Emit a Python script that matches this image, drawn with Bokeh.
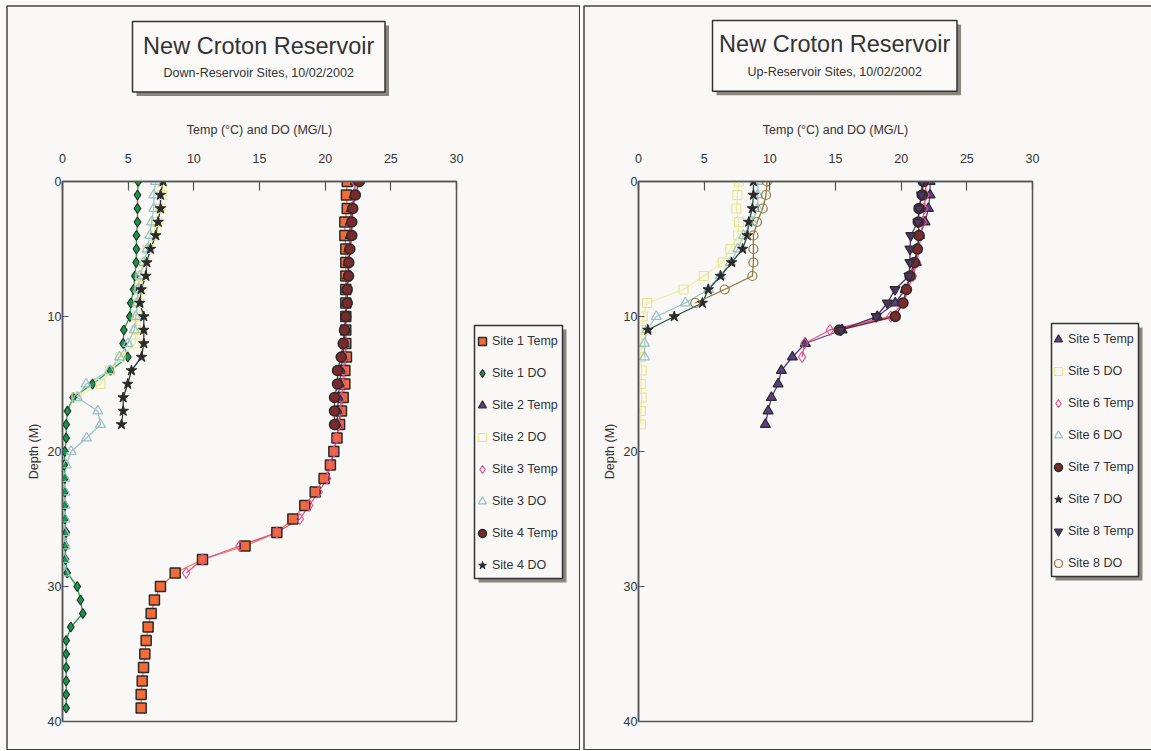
from bokeh.plotting import figure
from bokeh.models import Range1d, FixedTicker, Label, Legend, LegendItem, GridBox
from bokeh.embed import file_html
from bokeh.resources import INLINE

# ---------------- data (depth in metres, value at each 1 m step) ----------------
depth_m = list(range(40))

site1_temp = [21.68, 21.62, 21.68, 21.5, 21.5, 21.57, 21.57, 21.57, 21.57, 21.57,
              21.57, 21.57, 21.57, 21.62, 21.5, 21.5, 21.37, 21.24, 21.1, 20.9,
              20.66, 20.4, 19.92, 19.24, 18.45, 17.54, 16.32, 13.9, 10.66, 8.58,
              7.46, 7.0, 6.75, 6.52, 6.37, 6.27, 6.17, 6.07, 5.99, 5.99]
site1_do = [5.76, 5.71, 5.71, 5.71, 5.63, 5.63, 5.61, 5.51, 5.41, 5.2,
            5.13, 4.67, 4.62, 4.97, 3.65, 2.28, 0.81, 0.38, 0.28, 0.28,
            0.18, 0.13, 0.18, 0.18, 0.18, 0.18, 0.28, 0.23, 0.23, 0.36,
            1.12, 1.37, 1.55, 0.63, 0.28, 0.28, 0.28, 0.28, 0.28, 0.28]
site2_temp = [22.3, 22.2, 22.0, 21.9, 21.9, 21.8, 21.75, 21.7, 21.65, 21.6,
              21.55, 21.5, 21.45, 21.35, 21.2, 21.1, 21.0, 20.95, 20.9]
site2_do = [7.6, 7.6, 7.45, 7.2, 6.95, 6.5, 6.24, 5.94, 5.85, 5.8,
            5.69, 5.6, 5.56, 4.42, 3.6, 2.89, 1.07]
site3_temp = [22.26, 22.18, 22.05, 21.95, 21.95, 21.8, 21.75, 21.7, 21.65, 21.62,
              21.6, 21.58, 21.55, 21.5, 21.4, 21.35, 21.25, 21.15, 21.05, 20.85,
              20.66, 20.4, 20.15, 19.5, 18.78, 18.07, 16.32, 13.48, 10.66, 9.42]
site3_do = [7.08, 6.95, 6.95, 6.78, 6.65, 6.45, 6.19, 5.89, 5.76, 5.7,
            5.58, 5.46, 4.97, 4.34, 3.6, 1.8, 1.12, 2.69, 2.89, 1.83,
            0.66, 0.28, 0.18, 0.18, 0.18, 0.18, 0.15, 0.18, 0.15, 0.18]
site4_temp = [22.6, 22.3, 22.1, 22.03, 22.03, 21.88, 21.8, 21.78, 21.68, 21.68,
              21.57, 21.47, 21.37, 21.22, 20.94, 20.94, 20.71, 20.71, 20.71]
site4_do = [7.66, 7.46, 7.46, 7.28, 7.1, 6.7, 6.42, 6.35, 5.99, 5.89,
            6.19, 6.19, 6.19, 6.02, 5.25, 4.97, 4.62, 4.62, 4.49]

site5_temp = [22.2, 22.2, 22.07, 21.82, 21.4, 21.2, 21.15, 20.72, 20.3, 19.55,
              18.18, 15.5, 12.7, 11.72, 10.88, 10.63, 10.12, 9.87, 9.66]
site5_do = [7.65, 7.53, 7.45, 7.65, 7.58, 6.99, 6.41, 4.96, 3.43, 0.66,
            0.33, 0.25, 0.18, 0.18, 0.25, 0.18, 0.25, 0.18, 0.18]
site6_temp = [21.9, 21.85, 21.75, 21.65, 21.5, 21.35, 21.2, 20.9, 20.5, 20.2,
              19.2, 14.57, 12.64, 12.46]
site6_do = [9.08, 9.08, 9.08, 8.64, 8.0, 7.55, 7.0, 6.23, 5.34, 3.56,
            1.35, 0.64, 0.46, 0.46]
site7_temp = [21.69, 21.6, 21.36, 21.3, 21.36, 21.23, 21.0, 20.67, 20.4, 20.14,
              19.55, 15.3]
site7_do = [8.75, 8.75, 8.67, 8.39, 8.29, 7.93, 7.09, 6.25, 5.31, 4.86,
            2.72, 0.71]
site8_temp = [21.6, 21.54, 21.36, 21.28, 20.73, 20.67, 20.67, 20.6, 19.53, 18.95,
              18.1, 15.4]
site8_do = [9.79, 9.71, 9.46, 9.03, 8.75, 8.75, 8.75, 8.67, 6.56, 4.32]

x_ticks = [0, 5, 10, 15, 20, 25, 30]
y_ticks = [0, 10, 20, 30, 40]

# ---------------- styles ----------------
FONT = "Liberation Sans"
BG = "#f9f8f6"
TXT = "#333333"
EDGE = "#2b2b2b"
SHADOW = "#8a857f"

left_series = [
    ("Site 1 Temp", site1_temp, dict(marker="square", size=10, fill_color="#f26b38", line_color=EDGE, line_width=1.5), "#f0784a"),
    ("Site 1 DO", site1_do, dict(marker="diamond", size=10, fill_color="#12994a", line_color=EDGE, line_width=1.2), "#1aa64f"),
    ("Site 2 Temp", site2_temp, dict(marker="triangle", size=10, fill_color="#5b3f80", line_color=EDGE, line_width=1.2), "#5b3f80"),
    ("Site 2 DO", site2_do, dict(marker="square", size=9, fill_color=None, line_color="#e6e68a", line_width=1.2), "#ecec9a"),
    ("Site 3 Temp", site3_temp, dict(marker="diamond", size=11, fill_color=None, line_color="#e4508a", line_width=1.2), "#e4508a"),
    ("Site 3 DO", site3_do, dict(marker="triangle", size=10, fill_color=None, line_color="#96c0c4", line_width=1.2), "#9cc3c6"),
    ("Site 4 Temp", site4_temp, dict(marker="circle", size=10, fill_color="#7b2a2c", line_color=EDGE, line_width=1.5), "#7b2a2c"),
    ("Site 4 DO", site4_do, dict(marker="star", size=11, fill_color="#2a2a2a", line_color="#2a2a2a", line_width=1), "#2b3f38"),
]
right_series = [
    ("Site 5 Temp", site5_temp, dict(marker="triangle", size=10, fill_color="#5b3f80", line_color=EDGE, line_width=1.2), "#5b3f80"),
    ("Site 5 DO", site5_do, dict(marker="square", size=9, fill_color=None, line_color="#e6e68a", line_width=1.2), "#ecec9a"),
    ("Site 6 Temp", site6_temp, dict(marker="diamond", size=11, fill_color=None, line_color="#e4508a", line_width=1.2), "#e4508a"),
    ("Site 6 DO", site6_do, dict(marker="triangle", size=10, fill_color=None, line_color="#96c0c4", line_width=1.2), "#9cc3c6"),
    ("Site 7 Temp", site7_temp, dict(marker="circle", size=10, fill_color="#7b2a2c", line_color=EDGE, line_width=1.5), "#7b2a2c"),
    ("Site 7 DO", site7_do, dict(marker="star", size=11, fill_color="#2a2a2a", line_color="#2a2a2a", line_width=1), "#1d5a44"),
    ("Site 8 Temp", site8_temp, dict(marker="inverted_triangle", size=10, fill_color="#4a3566", line_color=EDGE, line_width=1.2), "#4a3566"),
    ("Site 8 DO", site8_do, dict(marker="circle", size=9, fill_color=None, line_color="#8c7a3e", line_width=1.2), "#8c7a3e"),
]

H = 750


def build_plot(series, width, left_b):
    fw, fh, top_b = 394, 540, 181
    p = figure(width=width, height=H, x_range=Range1d(0, 30), y_range=Range1d(40, 0),
               x_axis_location="above", output_backend="svg", toolbar_location=None,
               min_border_left=left_b, min_border_right=width - left_b - fw,
               min_border_top=top_b, min_border_bottom=H - top_b - fh,
               background_fill_alpha=0, border_fill_alpha=0, frame_align=False)
    p.grid.visible = False
    p.outline_line_color = "#555555"
    p.outline_line_width = 1.5

    xa = p.xaxis[0]
    xa.ticker = FixedTicker(ticks=x_ticks)
    xa.axis_label = "Temp (°C) and DO (MG/L)"
    xa.major_tick_in = 9
    xa.major_tick_out = 0
    xa.major_label_standoff = 19
    xa.axis_label_standoff = 14
    ya = p.yaxis[0]
    ya.ticker = FixedTicker(ticks=y_ticks)
    ya.axis_label = "Depth (M)"
    ya.major_tick_in = 6
    ya.major_tick_out = 0
    ya.major_label_standoff = 1
    ya.axis_label_standoff = 4
    for ax in (xa, ya):
        ax.minor_tick_line_color = None
        ax.axis_line_color = "#555555"
        ax.axis_line_width = 1.5
        ax.major_tick_line_color = "#555555"
        ax.major_tick_line_width = 1.2
        ax.major_label_text_font = FONT
        ax.major_label_text_font_size = "12.5px"
        ax.major_label_text_color = TXT
        ax.axis_label_text_font = FONT
        ax.axis_label_text_font_size = "12.5px"
        ax.axis_label_text_font_style = "normal"
        ax.axis_label_text_color = TXT

    for name, vals, mk, lcolor in series:
        p.line(vals, depth_m[:len(vals)], line_color=lcolor, line_width=1.3)
    for name, vals, mk, lcolor in series:
        p.scatter(vals, depth_m[:len(vals)], **mk)
    return p


def build_deco(series, subtitle, width, border, title_box, title_xy, sub_y, leg_box, leg_loc):
    # decoration layer: panel border, title box and legend (canvas pixel coordinates)
    d = figure(width=width, height=H, x_range=Range1d(0, width), y_range=Range1d(H, 0),
               x_axis_location=None, y_axis_location=None, output_backend="svg",
               toolbar_location=None, min_border=0, frame_align=False,
               background_fill_color=BG, border_fill_color=BG)
    d.grid.visible = False
    d.outline_line_color = None

    bl, bt, br, bb = border
    d.quad(left=[bl], right=[br], top=[bt], bottom=[bb], fill_alpha=0,
           line_color="#444444", line_width=1.5)

    tl, tt, tr, tb = title_box
    d.quad(left=[tl + 4], right=[tr + 4], top=[tt + 4], bottom=[tb + 4],
           fill_color=SHADOW, line_color=None)
    d.quad(left=[tl], right=[tr], top=[tt], bottom=[tb],
           fill_color="#fbfaf9", line_color="#333333", line_width=1.5)
    d.add_layout(Label(x=title_xy[0], y=title_xy[1], text="New Croton Reservoir",
                       text_align="center", text_baseline="middle",
                       text_font=FONT, text_font_size="23.5px", text_color=TXT))
    d.add_layout(Label(x=title_xy[0], y=sub_y, text=subtitle,
                       text_align="center", text_baseline="middle",
                       text_font=FONT, text_font_size="12.5px", text_color=TXT))

    ll, lt, lr, lb = leg_box
    d.quad(left=[ll + 4], right=[lr + 4], top=[lt + 4], bottom=[lb + 4],
           fill_color=SHADOW, line_color=None)
    d.quad(left=[ll], right=[lr], top=[lt], bottom=[lb],
           fill_color=BG, line_color="#333333", line_width=1.5)

    # legend swatches: hidden copies of each series (only their legend glyph is drawn)
    items = []
    for name, vals, mk, lcolor in series:
        r = d.scatter(vals, depth_m[:len(vals)], visible=False, **mk)
        items.append(LegendItem(label=name, renderers=[r]))
    leg = Legend(items=items, location=leg_loc,
                 glyph_width=20, glyph_height=22, label_height=22, spacing=10,
                 padding=0, margin=0, label_standoff=0,
                 border_line_alpha=0, background_fill_alpha=0,
                 inactive_fill_alpha=0,
                 label_text_font=FONT, label_text_font_size="12.5px", label_text_color=TXT)
    d.add_layout(leg)
    return d


W1, W2 = 580, 569
plot1 = build_plot(left_series, W1, 62)
plot2 = build_plot(right_series, W2, 56)
deco1 = build_deco(left_series, "Down-Reservoir Sites, 10/02/2002", W1,
                   (6.5, 5.5, 579.2, 749.2), (132, 21, 384.5, 91.5), (258.2, 45), 72.7,
                   (474, 325, 562, 578), (472, H - 576))
deco2 = build_deco(right_series, "Up-Reservoir Sites, 10/02/2002", W2,
                   (1.5, 5.5, 640, 749.2), (130, 20, 374.5, 90.7), (252.2, 43.3), 71.7,
                   (469, 323, 556, 576), (466, H - 574))

layout = GridBox(children=[(deco1, 0, 0), (plot1, 0, 0), (deco2, 0, 1), (plot2, 0, 1)],
                 spacing=2)

open("out.html", "w").write(file_html(layout, INLINE))
